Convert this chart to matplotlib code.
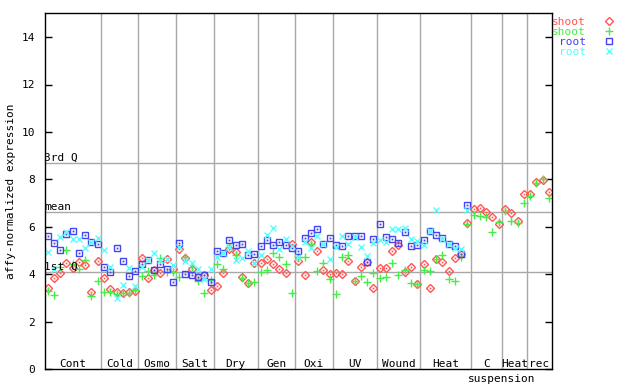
import numpy as np
import matplotlib
matplotlib.use("Agg")
import matplotlib.pyplot as plt
from matplotlib.lines import Line2D
from matplotlib import transforms

nan = np.nan
categories = ["Cont", "Cold", "Osmo", "Salt", "Dry", "Gen", "Oxi", "UV", "Wound", "Heat", "C", "Heat", "rec"]
counts = [9, 6, 6, 6, 7, 6, 6, 7, 7, 8, 5, 4, 4]

shoot_red = [3.42, 3.84, 4.05, 4.47, 4.26, 4.53, 4.39, 3.25, 4.55,
             3.84, 3.37, 3.25, 3.20, 3.25, 3.30,
             4.68, 3.84, 4.17, 4.05, 4.65, 4.22,
             5.07, 4.68, 4.23, 3.87, 3.98, 3.35,
             3.51, 4.05, 5.07, 4.93, 3.91, 3.63, 4.47,
             4.47, 4.65, 4.43, 4.23, 4.05, 5.27,
             4.55, 3.96, 5.36, 4.98, 4.17, 4.01,
             4.05, 4.01, 4.55, 3.70, 4.30, 4.51, 3.42,
             4.26, 4.26, 4.98, 5.23, 4.09, 4.30, 3.58,
             4.43, 3.42, 4.65, 4.51, 4.13, 4.68, 4.85, 6.16,
             6.75, 6.78, 6.62, 6.41, 6.11,
             6.75, 6.58, 6.26, 7.38,
             7.38, 7.90, 7.98, 7.47]
shoot_green = [3.32, 3.12, 4.33, 5.02, 4.43, 4.22, 4.61, 3.08, 3.74,
               3.25, 3.25, 3.18, 3.20, 3.20, 3.33,
               3.94, 4.13, 3.96, 4.71, 4.09, 4.09,
               3.89, 4.75, 4.29, 3.72, 3.20, 3.77,
               4.43, 4.23, 5.17, 4.82, 3.84, 3.63, 3.67,
               4.09, 4.17, 4.89, 4.75, 4.43, 3.20,
               4.75, 4.75, 5.27, 4.13, 4.47, 3.80,
               3.16, 4.75, 4.81, 3.74, 3.92, 3.67, 4.05,
               3.84, 3.89, 4.47, 3.96, 4.17, 3.63, 3.58,
               4.17, 4.13, 4.65, 4.81, 3.80, 3.74, 4.75, 6.11,
               6.52, 6.45, 6.41, 5.78, 6.21,
               6.68, 6.26, 6.16, 7.00,
               7.30, 7.86, 8.03, 7.21]
root_blue = [5.62, 5.31, 5.02, 5.69, 5.82, 4.90, 5.65, 5.38, 5.28,
             4.30, 4.09, 5.10, 4.55, 3.92, 4.13,
             4.43, 4.60, 4.17, 4.43, 4.22, 3.67,
             5.31, 4.01, 3.96, 3.87, 3.96, 3.67,
             4.98, 4.88, 5.44, 5.23, 5.27, 4.81, 4.85,
             5.19, 5.44, 5.23, 5.36, 5.23, 5.10,
             4.98, 5.52, 5.74, 5.90, 5.27, 5.52,
             5.23, 5.19, 5.61, 5.61, 5.61, 4.51, 5.48,
             6.11, 5.57, 5.48, 5.31, 5.78, 5.19, 5.23,
             5.44, 5.82, 5.65, 5.52, 5.27, 5.19, 4.85, 6.92,
             nan, nan, nan, nan, nan,
             nan, nan, nan, nan,
             nan, nan, nan, nan]
root_cyan = [4.95, 4.22, 5.57, 5.79, 5.50, 5.50, 5.10, 5.38, 5.55,
             5.02, 4.33, 3.02, 3.54, 4.26, 3.50,
             4.33, 4.60, 4.89, 4.60, 4.65, 4.39,
             5.17, 4.55, 4.46, 4.22, 3.82, 4.22,
             4.75, 4.89, 5.17, 4.60, 4.71, 4.98, 4.47,
             4.81, 5.65, 5.95, 5.06, 5.48, 5.19,
             4.75, 5.36, 5.10, 5.61, 5.27, 4.65,
             5.14, 5.61, 5.27, 5.57, 5.14, 4.77, 5.31,
             5.44, 5.36, 5.90, 5.90, 5.95, 5.48, 5.40,
             5.23, 5.82, 6.70, 5.48, 5.27, 5.10, 5.06, 6.70,
             nan, nan, nan, nan, nan,
             nan, nan, nan, nan,
             nan, nan, nan, nan]
q1, mean_val, q3 = 4.09, 6.62, 8.69
legend_labels = ["shoot", "shoot", "root", "root"]

RED, GREEN, BLUE, CYAN = "#ff5555", "#44ee44", "#4444ee", "#55ffff"
GRID = "#a8a8a8"
FONT = "DejaVu Sans Mono"
plt.rcParams["font.family"] = FONT

fig = plt.figure(figsize=(6.4, 3.84), dpi=100)
L, R, B, T = 44.5, 552, 384 - 369.3, 384 - 13.3
ax = fig.add_axes([L / 640, B / 384, (R - L) / 640, (T - B) / 384])

n = len(shoot_red)
x = np.arange(n)
ax.set_xlim(-0.5, n - 0.5)
ax.set_ylim(0, 15)

bounds = np.cumsum(counts) - 0.5
for b in bounds[:-1]:
    ax.axvline(b, color=GRID, lw=1.0, zorder=1)
for v in (q1, mean_val, q3):
    ax.axhline(v, color=GRID, lw=1.0, zorder=1)

ax.text(-0.5, q3, "3rd Q", fontsize=8, va="bottom", ha="left", color="black")
ax.text(-0.5, mean_val, "mean", fontsize=8, va="bottom", ha="left", color="black")
ax.text(-0.5, q1, "1st Q", fontsize=8, va="bottom", ha="left", color="black", zorder=5)

ax.plot(x, shoot_red, ls="none", marker="D", ms=3.6, mfc="none", mec=RED, mew=1.0, zorder=3)
ax.plot(x, shoot_red, ls="none", marker="s", ms=1.2, mfc=RED, mec="none", zorder=3)
ax.plot(x, shoot_green, ls="none", marker="+", ms=5.5, mec=GREEN, mew=1.0, zorder=3)
ax.plot(x, root_blue, ls="none", marker="s", ms=4.6, mfc="none", mec=BLUE, mew=1.0, zorder=3)
ax.plot(x, root_blue, ls="none", marker="s", ms=1.3, mfc=BLUE, mec="none", zorder=3)
ax.plot(x, root_cyan, ls="none", marker="x", ms=4.2, mec=CYAN, mew=1.0, zorder=3)

blend = transforms.blended_transform_factory(ax.transData, ax.transAxes)
starts = np.concatenate([[0], np.cumsum(counts)[:-1]]) - 0.5
centers = (starts + bounds) / 2
for c, lab in zip(centers, categories):
    ax.text(c, 0.0, lab, transform=blend, fontsize=8, ha="center", va="bottom")
ax.text(bounds[10], -0.012, "suspension", transform=blend, fontsize=8, ha="center", va="top")

ax.set_yticks(np.arange(0, 15, 2))
ax.set_xticks([])
ax.tick_params(axis="y", direction="in", length=5, width=1, right=True, left=True,
               labelsize=8, pad=7)
for s in ax.spines.values():
    s.set_linewidth(1.0)
    s.set_zorder(4)

fig.text(11.5 / 640, 0.5 * (B + T) / 384, "affy-normalized expression", rotation=90,
         ha="center", va="center", fontsize=8)

handles = [Line2D([], [], ls="none", marker="D", ms=3.6, mfc="none", mec=RED, mew=1.0),
           Line2D([], [], ls="none", marker="+", ms=5.5, mec=GREEN, mew=1.0),
           Line2D([], [], ls="none", marker="s", ms=4.6, mfc="none", mec=BLUE, mew=1.0),
           Line2D([], [], ls="none", marker="x", ms=4.2, mec=CYAN, mew=1.0)]
leg = fig.legend(handles, legend_labels, loc="upper right",
                 bbox_to_anchor=(615 / 640, 1 - 17 / 384), bbox_transform=fig.transFigure,
                 frameon=False, markerfirst=False, handlelength=1.0, handletextpad=1.6,
                 labelspacing=0.0, fontsize=8, borderpad=0, borderaxespad=0)
for t, col in zip(leg.get_texts(), [RED, GREEN, BLUE, CYAN]):
    t.set_color(col)

fig.savefig("out.png", dpi=100)
